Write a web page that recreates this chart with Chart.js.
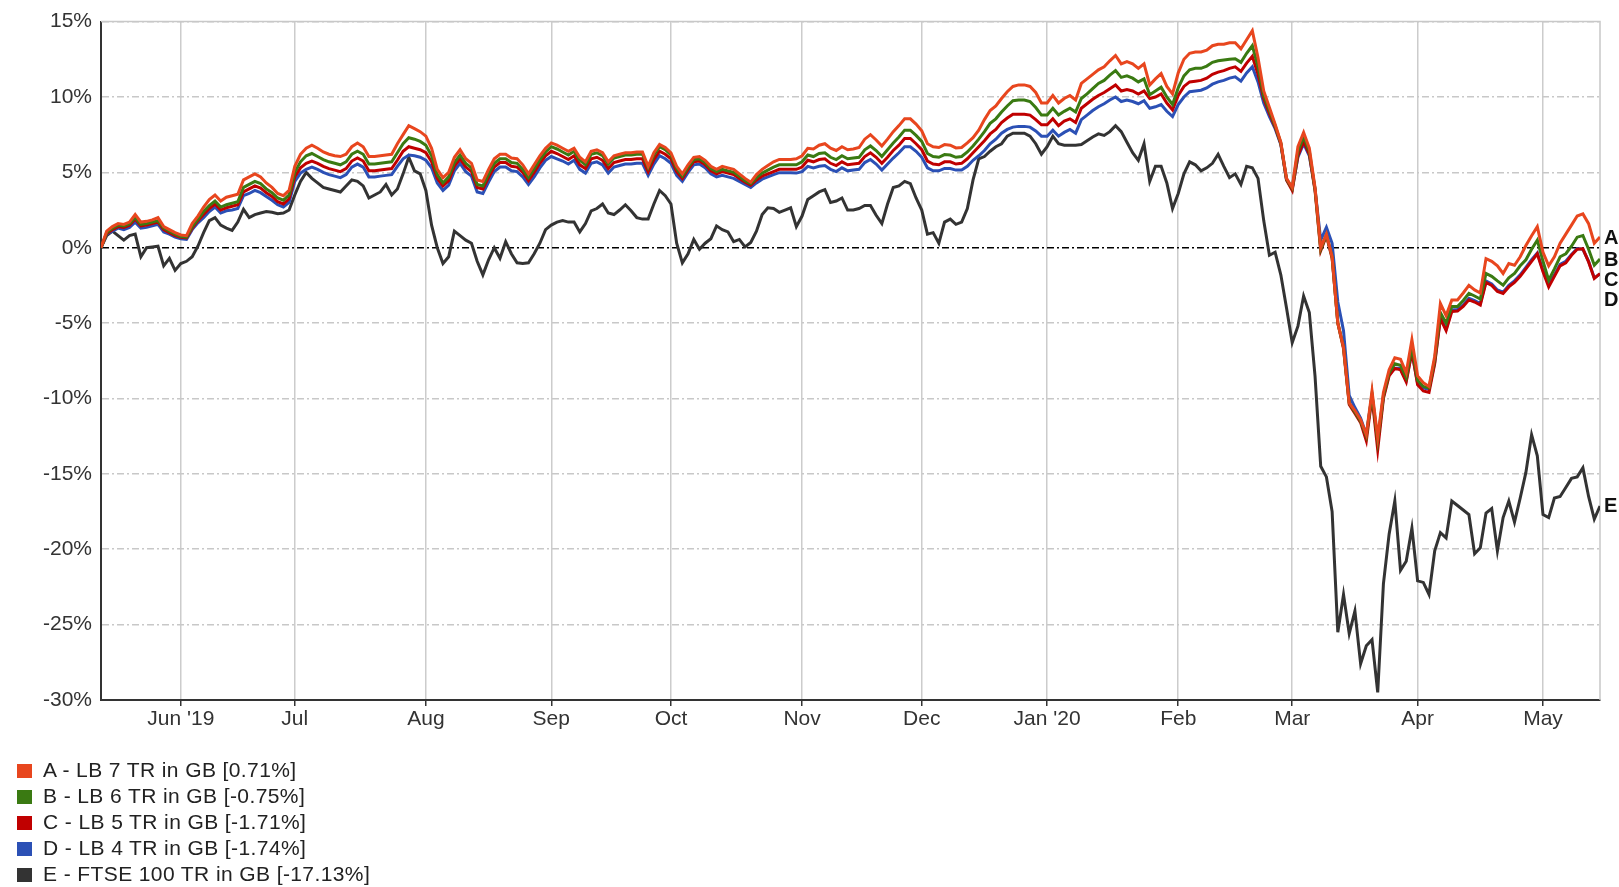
<!DOCTYPE html>
<html>
<head>
<meta charset="utf-8">
<title>LB TR in GB vs FTSE 100</title>
<script src="https://cdn.jsdelivr.net/npm/chart.js@4.4.1/dist/chart.umd.min.js"></script>
<style>
  html, body { margin: 0; padding: 0; background: #fff; }
  #wrap { position: relative; width: 1619px; height: 887px; }
  #chart { display: block; }
  #legend { position: absolute; left: 17px; top: 757px; font: 21px "Liberation Sans", Arial, sans-serif; color: #222; letter-spacing: 0.4px; }
  .item { height: 26px; line-height: 26px; white-space: nowrap; }
  .sw { display: inline-block; width: 15px; height: 14px; vertical-align: -1px; margin-right: 11px; }
</style>
</head>
<body>
<div id="wrap">
  <canvas id="chart" width="1619" height="887"></canvas>
  <div id="legend"></div>
</div>
<script>
// x = trading (week) day index, 14 May 2019 .. 15 May 2020
const days = Array.from({ length: 264 }, (_, i) => i);

// month ticks (index of first weekday of each month)
const monthIdx = [14, 34, 57, 79, 100, 123, 144, 166, 189, 209, 231, 253];
const monthLabels = ["Jun '19", 'Jul', 'Aug', 'Sep', 'Oct', 'Nov', 'Dec', "Jan '20", 'Feb', 'Mar', 'Apr', 'May'];

const yTicks = [-30, -25, -20, -15, -10, -5, 0, 5, 10, 15];

const seriesNames = ['A - LB 7 TR in GB [0.71%]', 'B - LB 6 TR in GB [-0.75%]', 'C - LB 5 TR in GB [-1.71%]',
                     'D - LB 4 TR in GB [-1.74%]', 'E - FTSE 100 TR in GB [-17.13%]'];
const letters = ['A', 'B', 'C', 'D', 'E'];
const colors = ['#e8461e', '#3a7a12', '#c00000', '#2b50b5', '#333333'];

const lb7 = [
  0, 1.1, 1.4, 1.6, 1.55, 1.7, 2.2, 1.7, 1.75, 1.85,
  2.0, 1.4, 1.2, 1.0, 0.85, 0.8, 1.6, 2.1, 2.7, 3.2,
  3.5, 3.1, 3.35, 3.45, 3.55, 4.5, 4.7, 4.9, 4.7, 4.3,
  4.0, 3.6, 3.45, 3.8, 5.4, 6.2, 6.6, 6.8, 6.6, 6.35,
  6.2, 6.1, 6.05, 6.2, 6.7, 6.95, 6.7, 6.05, 6.05, 6.1,
  6.15, 6.2, 6.9, 7.5, 8.1, 7.9, 7.7, 7.4, 6.6, 5.2,
  4.65, 5.0, 6.0, 6.5, 5.9, 5.6, 4.5, 4.4, 5.2, 5.9,
  6.2, 6.2, 5.95, 5.9, 5.5, 4.9, 5.5, 6.1, 6.6, 6.95,
  6.8, 6.6, 6.4, 6.6, 6.0, 5.7, 6.4, 6.5, 6.3, 5.7,
  6.1, 6.2, 6.3, 6.3, 6.35, 6.35, 5.4, 6.3, 6.85, 6.65,
  6.3, 5.4, 4.9, 5.5, 6.0, 6.05, 5.8, 5.4, 5.2, 5.4,
  5.3, 5.2, 4.9, 4.6, 4.35, 4.85, 5.2, 5.45, 5.7, 5.86,
  5.86, 5.86, 5.9, 6.1, 6.6, 6.55, 6.8, 6.9, 6.6, 6.45,
  6.7, 6.5, 6.55, 6.65, 7.2, 7.5, 7.15, 6.75, 7.2, 7.7,
  8.1, 8.55, 8.55, 8.2, 7.75, 6.9, 6.7, 6.65, 6.84, 6.8,
  6.62, 6.65, 6.95, 7.3, 7.8, 8.5, 9.1, 9.4, 9.9, 10.35,
  10.7, 10.8, 10.8, 10.7, 10.3, 9.6, 9.6, 10.1, 9.6, 9.9,
  10.1, 9.8, 10.9, 11.2, 11.5, 11.8, 12.0, 12.4, 12.75, 12.2,
  12.35, 12.2, 11.9, 12.2, 10.8, 11.2, 11.55, 10.7, 10.2, 11.6,
  12.5, 12.9, 12.98, 12.98, 13.1, 13.4, 13.5, 13.5, 13.6, 13.6,
  13.2, 13.8, 14.4, 12.6, 10.4, 9.3, 8.2, 7.0, 4.6, 4.0,
  6.7, 7.65, 6.6, 4.0, 0.0, 0.9, -0.6, -5.0, -6.6, -10.3,
  -10.8, -11.4, -12.4, -9.5, -12.6, -9.6, -8.1, -7.3, -7.4, -8.3,
  -6.1, -8.5, -8.95, -9.2, -7.2, -3.7, -4.5, -3.46, -3.46, -3.0,
  -2.5, -2.8, -3.0, -0.72, -0.9, -1.2, -1.71, -1.05, -1.16, -0.6,
  0.15, 0.8, 1.4, -0.3, -1.2, -0.6, 0.3, 0.9, 1.5, 2.1,
  2.24, 1.6, 0.3, 0.71
];

const lb6 = [
  0, 1.0, 1.3, 1.5, 1.45, 1.6, 2.0, 1.55, 1.6, 1.7,
  1.8, 1.3, 1.1, 0.9, 0.75, 0.7, 1.4, 1.9, 2.4, 2.8,
  3.1, 2.7, 2.85, 2.95, 3.05, 4.0, 4.2, 4.4, 4.25, 3.9,
  3.65, 3.3, 3.15, 3.5, 5.0, 5.7, 6.1, 6.25, 6.05, 5.85,
  5.7, 5.6, 5.5, 5.7, 6.2, 6.4, 6.2, 5.55, 5.55, 5.6,
  5.65, 5.7, 6.3, 6.9, 7.3, 7.2, 7.05, 6.8, 6.1, 4.85,
  4.3, 4.7, 5.65, 6.15, 5.6, 5.3, 4.2, 4.1, 4.9, 5.6,
  5.9, 5.9, 5.65, 5.6, 5.2, 4.65, 5.25, 5.85, 6.35, 6.7,
  6.55, 6.35, 6.15, 6.4, 5.8, 5.5, 6.2, 6.3, 6.1, 5.55,
  5.95, 6.05, 6.15, 6.15, 6.2, 6.2, 5.3, 6.15, 6.7, 6.5,
  6.15, 5.25, 4.75, 5.35, 5.85, 5.9, 5.65, 5.25, 5.05, 5.2,
  5.1, 5.0, 4.75, 4.45, 4.25, 4.65, 4.95, 5.15, 5.35, 5.5,
  5.5, 5.5, 5.5, 5.7, 6.15, 6.05, 6.25, 6.3, 6.0, 5.85,
  6.1, 5.9, 5.95, 6.0, 6.5, 6.75, 6.45, 6.05, 6.5, 6.95,
  7.35, 7.8, 7.8, 7.45, 7.05, 6.25, 6.05, 6.0, 6.18, 6.15,
  6.0, 6.05, 6.35, 6.75, 7.2, 7.7, 8.25, 8.55, 9.0, 9.4,
  9.75, 9.8, 9.8, 9.7, 9.3, 8.8, 8.8, 9.25, 8.8, 9.05,
  9.25, 9.0, 9.9, 10.2, 10.55, 10.9, 11.1, 11.45, 11.75, 11.3,
  11.4, 11.25, 11.0, 11.2, 10.15, 10.4, 10.65, 10.0, 9.5, 10.6,
  11.4, 11.8, 11.9, 11.9, 12.05, 12.3, 12.4, 12.45, 12.5, 12.54,
  12.3, 12.9, 13.4, 12.0, 10.1, 9.1, 8.1, 6.95, 4.55, 3.95,
  6.4, 7.35, 6.4, 3.9, -0.1, 0.85, -0.6, -5.0, -6.6, -10.3,
  -10.9, -11.5, -12.5, -9.7, -12.8, -9.8, -8.3, -7.7, -7.8, -8.6,
  -6.6, -8.8, -9.2, -9.3, -7.4, -4.3, -5.0, -3.9, -3.9, -3.5,
  -3.03, -3.2, -3.4, -1.71, -1.9, -2.2, -2.48, -2.0, -1.7, -1.2,
  -0.8, -0.1, 0.5, -0.9, -2.15, -1.4, -0.6, -0.4, 0.1, 0.7,
  0.81, -0.1, -1.16, -0.75
];

const lb5 = [
  0, 0.95, 1.2, 1.4, 1.35, 1.5, 1.9, 1.45, 1.5, 1.6,
  1.7, 1.2, 1.0, 0.8, 0.7, 0.65, 1.3, 1.8, 2.2, 2.6,
  2.9, 2.5, 2.65, 2.75, 2.85, 3.7, 3.9, 4.1, 3.95, 3.65,
  3.4, 3.05, 2.9, 3.25, 4.7, 5.3, 5.6, 5.75, 5.6, 5.4,
  5.25, 5.15, 5.05, 5.25, 5.75, 5.95, 5.75, 5.1, 5.1, 5.15,
  5.2, 5.25, 5.8, 6.4, 6.7, 6.6, 6.5, 6.3, 5.7, 4.6,
  4.1, 4.45, 5.4, 5.9, 5.35, 5.05, 4.0, 3.9, 4.65, 5.35,
  5.65, 5.65, 5.4, 5.35, 5.0, 4.45, 5.0, 5.6, 6.1, 6.4,
  6.25, 6.05, 5.85, 6.1, 5.5, 5.25, 5.9, 6.0, 5.8, 5.25,
  5.65, 5.75, 5.85, 5.85, 5.9, 5.9, 5.05, 5.85, 6.4, 6.2,
  5.9, 5.05, 4.6, 5.2, 5.7, 5.75, 5.5, 5.1, 4.9, 5.05,
  4.95, 4.85, 4.6, 4.35, 4.15, 4.5, 4.75, 4.9, 5.05, 5.2,
  5.2, 5.2, 5.2, 5.35, 5.8, 5.7, 5.85, 5.9, 5.6, 5.45,
  5.7, 5.5, 5.55, 5.6, 6.05, 6.3, 6.0, 5.6, 6.0, 6.45,
  6.8, 7.25, 7.25, 6.9, 6.5, 5.75, 5.55, 5.5, 5.7, 5.7,
  5.55, 5.6, 5.9, 6.3, 6.7, 7.1, 7.55, 7.85, 8.3, 8.6,
  8.85, 8.85, 8.85, 8.8, 8.5, 8.15, 8.15, 8.55, 8.1, 8.4,
  8.55, 8.3, 9.25, 9.55, 9.85, 10.1, 10.3, 10.55, 10.8, 10.4,
  10.5, 10.4, 10.2, 10.4, 9.9, 10.0, 10.2, 9.6, 9.15, 10.1,
  10.7, 11.0, 11.05, 11.1, 11.25, 11.5, 11.65, 11.75, 11.9, 12.0,
  11.7, 12.25, 12.7, 11.5, 9.9, 8.9, 8.0, 6.9, 4.5, 3.8,
  6.1, 7.05, 6.2, 3.8, -0.2, 0.8, -0.7, -5.0, -6.7, -10.4,
  -11.0, -11.6, -12.8, -9.9, -13.4, -10.0, -8.5, -8.0, -8.1, -8.9,
  -6.9, -9.1, -9.5, -9.6, -7.7, -4.7, -5.5, -4.23, -4.2, -3.9,
  -3.46, -3.6, -3.8, -2.3, -2.5, -2.9, -3.03, -2.6, -2.3, -1.9,
  -1.4, -0.9, -0.4, -1.6, -2.6, -1.9, -1.2, -1.0, -0.5, -0.1,
  -0.07, -0.94, -2.04, -1.71
];

const lb4 = [
  0, 0.9, 1.1, 1.3, 1.2, 1.35, 1.7, 1.3, 1.35, 1.45,
  1.55, 1.05, 0.9, 0.7, 0.6, 0.55, 1.2, 1.65, 2.0, 2.4,
  2.7, 2.3, 2.45, 2.5, 2.6, 3.45, 3.6, 3.8, 3.65, 3.4,
  3.15, 2.85, 2.7, 3.0, 4.4, 4.95, 5.2, 5.35, 5.2, 5.0,
  4.85, 4.75, 4.65, 4.85, 5.35, 5.55, 5.35, 4.7, 4.7, 4.75,
  4.8, 4.85, 5.4, 5.9, 6.15, 6.1, 6.0, 5.8, 5.3, 4.3,
  3.8, 4.15, 5.1, 5.6, 5.05, 4.75, 3.7, 3.6, 4.35, 5.05,
  5.35, 5.35, 5.1, 5.05, 4.7, 4.2, 4.7, 5.3, 5.8, 6.05,
  5.9, 5.75, 5.55, 5.8, 5.2, 4.95, 5.6, 5.7, 5.5, 4.95,
  5.35, 5.45, 5.55, 5.55, 5.6, 5.6, 4.8, 5.55, 6.1, 5.9,
  5.6, 4.8, 4.4, 5.0, 5.5, 5.55, 5.3, 4.9, 4.7, 4.8,
  4.7, 4.6, 4.4, 4.2, 4.0, 4.3, 4.55, 4.7, 4.85, 4.98,
  4.98, 4.98, 4.95, 5.05, 5.4, 5.3, 5.4, 5.45, 5.2, 5.05,
  5.3, 5.1, 5.15, 5.2, 5.65, 5.85, 5.55, 5.15, 5.55, 5.95,
  6.3, 6.7, 6.7, 6.4, 6.0, 5.3, 5.1, 5.1, 5.26, 5.25,
  5.15, 5.15, 5.4, 5.8, 6.1, 6.45, 6.9, 7.2, 7.6, 7.85,
  8.0, 8.05, 8.05, 8.0, 7.75, 7.4, 7.4, 7.8, 7.4, 7.65,
  7.85, 7.6, 8.5, 8.8, 9.1, 9.35, 9.55, 9.8, 10.0, 9.7,
  9.8, 9.7, 9.55, 9.75, 9.25, 9.35, 9.5, 9.05, 8.7, 9.5,
  10.0, 10.35, 10.4, 10.45, 10.6, 10.85, 11.0, 11.1, 11.25, 11.34,
  11.05, 11.6, 12.0, 11.0, 9.6, 8.7, 7.9, 6.85, 4.5, 3.9,
  6.0, 6.9, 6.1, 3.9, 0.5, 1.35, 0.3, -3.6, -5.5, -9.8,
  -10.6, -11.3, -12.4, -9.8, -12.9, -9.9, -8.4, -8.0, -8.0, -8.8,
  -6.9, -9.0, -9.3, -9.4, -7.6, -4.6, -5.4, -4.12, -4.1, -3.8,
  -3.35, -3.5, -3.7, -2.2, -2.4, -2.8, -2.95, -2.5, -2.2, -1.8,
  -1.3, -0.8, -0.35, -1.5, -2.4, -1.8, -1.1, -0.9, -0.45, -0.05,
  -0.1, -0.9, -2.0, -1.74
];

const ftse100 = [
  0, 0.8, 1.1, 0.8, 0.5, 0.8, 0.9, -0.6, 0.0, 0.05,
  0.1, -1.2, -0.7, -1.5, -1.05, -0.9, -0.6, 0.1, 1.0, 1.8,
  2.0, 1.5, 1.3, 1.15, 1.7, 2.55, 2.0, 2.2, 2.3, 2.4,
  2.35, 2.25, 2.3, 2.5, 3.5, 4.4, 5.0, 4.6, 4.3, 4.0,
  3.9, 3.8, 3.7, 4.1, 4.5, 4.4, 4.1, 3.3, 3.5, 3.7,
  4.2, 3.5, 3.9, 4.9, 6.0, 5.1, 4.9, 3.8, 1.5, 0.0,
  -1.05, -0.6, 1.1, 0.8, 0.5, 0.3, -0.9, -1.8, -0.8, 0.0,
  -0.7, 0.4, -0.4, -1.0, -1.05, -1.0, -0.4, 0.3, 1.2, 1.5,
  1.7, 1.8, 1.7, 1.7, 1.05, 1.6, 2.45, 2.6, 2.9, 2.3,
  2.2, 2.5, 2.85, 2.45, 2.0, 1.9, 1.9, 2.9, 3.8, 3.45,
  2.9, 0.3, -1.0, -0.4, 0.55, -0.1, 0.3, 0.6, 1.45, 1.2,
  1.05, 0.4, 0.55, 0.05, 0.35, 1.1, 2.2, 2.65, 2.6, 2.35,
  2.5, 2.65, 1.4, 2.1, 3.2, 3.45, 3.7, 3.85, 3.0, 3.1,
  3.3, 2.5, 2.5, 2.6, 2.8, 2.8, 2.15, 1.6, 2.9, 4.0,
  4.1, 4.4, 4.25, 3.3, 2.5, 0.9, 1.0, 0.3, 1.7, 1.9,
  1.55, 1.7, 2.6, 4.5, 5.9, 6.05, 6.4, 6.7, 6.9, 7.4,
  7.6, 7.6, 7.6, 7.4, 6.9, 6.2, 6.7, 7.4, 6.9, 6.8,
  6.8, 6.8, 6.85, 7.1, 7.35, 7.55, 7.45, 7.7, 8.1, 7.7,
  7.0, 6.3, 5.8, 6.9, 4.4, 5.4, 5.4, 4.3, 2.6, 3.6,
  4.9, 5.7, 5.5, 5.1, 5.3, 5.6, 6.2, 5.4, 4.65, 4.9,
  4.2, 5.4, 5.3, 4.6, 1.8, -0.5, -0.3, -1.8, -4.0, -6.3,
  -5.2, -3.2, -4.3, -8.5, -14.5, -15.2, -17.5, -25.5, -23.0, -25.6,
  -24.1, -27.6, -26.4, -26.0, -29.5, -22.3, -19.0, -16.8, -21.4, -20.8,
  -18.6, -22.1, -22.2, -23.0, -20.1, -18.9, -19.25, -16.8, -17.1, -17.4,
  -17.7, -20.3, -19.9, -17.6, -17.3, -20.1, -17.9, -16.8, -18.2, -16.6,
  -14.9, -12.4, -13.8, -17.7, -17.9, -16.6, -16.5, -15.9, -15.3, -15.2,
  -14.6, -16.5, -18.0, -17.13
];

const allSeries = [lb7, lb6, lb5, lb4, ftse100];
const FONT = '"Liberation Sans", Arial, Helvetica, sans-serif';

// top/right frame and the A..E end labels
const frameAndLabels = {
  id: 'frameAndLabels',
  beforeDatasetsDraw(chart) {
    const { ctx, chartArea: a } = chart;
    ctx.save();
    ctx.strokeStyle = '#c8c8c8';
    ctx.lineWidth = 1.5;
    ctx.beginPath();
    ctx.moveTo(a.left, a.top);
    ctx.lineTo(a.right, a.top);
    ctx.lineTo(a.right, a.bottom);
    ctx.stroke();
    ctx.restore();
  },
  afterDatasetsDraw(chart) {
    const { ctx, chartArea: a, scales } = chart;
    const items = allSeries.map((s, i) => ({ txt: letters[i], y: scales.y.getPixelForValue(s[s.length - 1]) }));
    items.sort((p, q) => p.y - q.y);
    for (let i = 1; i < items.length; i++) {
      if (items[i].y < items[i - 1].y + 20) items[i].y = items[i - 1].y + 20;
    }
    ctx.save();
    ctx.font = 'bold 20px ' + FONT;
    ctx.fillStyle = '#111';
    ctx.textAlign = 'left';
    ctx.textBaseline = 'middle';
    items.forEach(it => ctx.fillText(it.txt, a.right + 4, it.y + 1));
    ctx.restore();
  }
};

Chart.defaults.font.family = FONT;
Chart.defaults.font.size = 21;
Chart.defaults.color = '#333';

new Chart(document.getElementById('chart'), {
  type: 'line',
  data: {
    labels: days,
    datasets: allSeries.map((s, i) => ({
      label: seriesNames[i],
      data: s,
      borderColor: colors[i],
      backgroundColor: colors[i],
      borderWidth: 3,
      pointRadius: 0,
      tension: 0,
      fill: false
    }))
  },
  options: {
    responsive: false,
    animation: false,
    layout: { padding: { left: 0, right: 19, top: 16, bottom: 157 } },
    plugins: { legend: { display: false }, tooltip: { enabled: false } },
    scales: {
      x: {
        type: 'linear',
        min: 0,
        max: 263,
        afterBuildTicks: (scale) => { scale.ticks = monthIdx.map(v => ({ value: v })); },
        afterFit: (scale) => { scale.height = 30; },
        ticks: {
          autoSkip: false,
          maxRotation: 0,
          padding: 1,
          color: '#333',
          callback: (v, i) => monthLabels[i]
        },
        grid: { color: '#cccccc', lineWidth: 1.5, drawTicks: true, tickLength: 6, tickColor: '#333', tickWidth: 1.5 },
        border: { display: true, color: '#333', width: 2 }
      },
      y: {
        min: -30,
        max: 15,
        afterBuildTicks: (scale) => { scale.ticks = yTicks.map(v => ({ value: v })); },
        afterFit: (scale) => { scale.width = 101; },
        ticks: { padding: 9, color: '#333', callback: (v) => v + '%' },
        grid: {
          drawTicks: false,
          color: (c) => (c.tick && c.tick.value === 0 ? '#000000' : '#c8c8c8'),
          lineWidth: 1.5
        },
        border: { display: true, color: '#333', width: 2, dash: [7, 3, 2, 3] }
      }
    }
  },
  plugins: [frameAndLabels]
});

// legend below the chart
const legend = document.getElementById('legend');
seriesNames.forEach((name, i) => {
  const row = document.createElement('div');
  row.className = 'item';
  const sw = document.createElement('span');
  sw.className = 'sw';
  sw.style.background = colors[i];
  row.appendChild(sw);
  row.appendChild(document.createTextNode(name));
  legend.appendChild(row);
});
</script>
</body>
</html>
